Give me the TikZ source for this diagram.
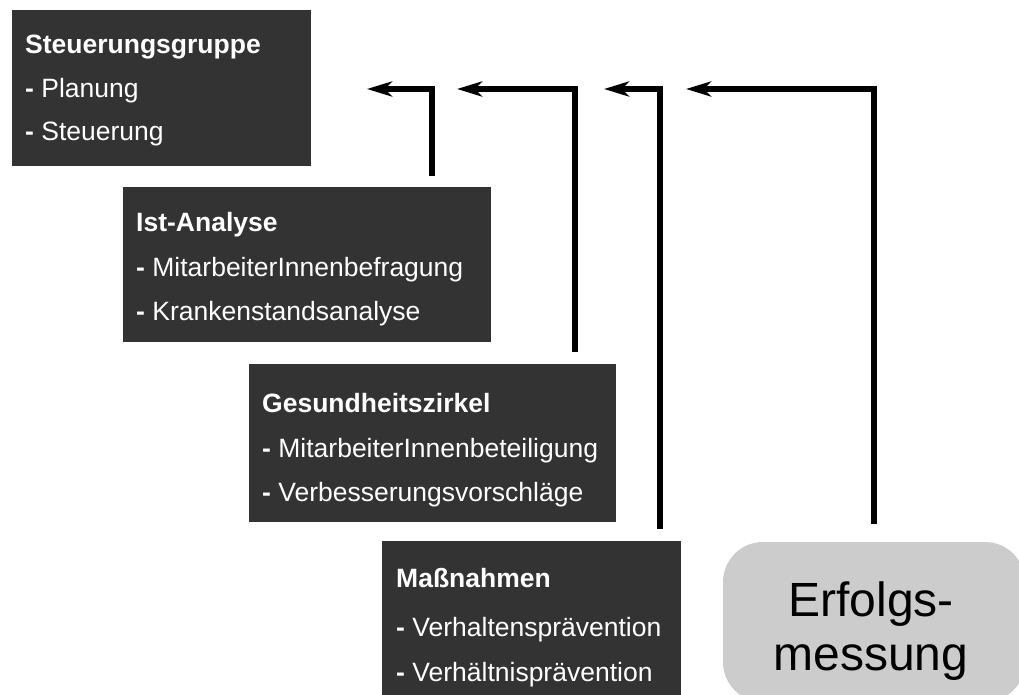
\documentclass[tikz,border=0pt]{standalone}
\usepackage{fontspec}
\setmainfont{Liberation Sans}
\usetikzlibrary{arrows.meta}
\definecolor{boxdark}{HTML}{333333}
\definecolor{boxlight}{HTML}{CCCCCC}
\tikzset{
  darkbox/.style={fill=boxdark, draw=none, inner sep=0pt, outer sep=0pt, anchor=north west},
  lightbox/.style={fill=boxlight, draw=none, inner sep=0pt, outer sep=0pt, anchor=north west, rounded corners=40pt},
  boxtext/.style={text=white, inner sep=0pt, anchor=base west, font=\fontsize{26.5}{30}\selectfont},
  bigtext/.style={text=black, inner sep=0pt, anchor=base, font=\fontsize{48}{54}\selectfont},
  flow/.style={line width=6pt, -{Stealth[length=25pt,width=15pt,inset=7pt]}},
}
\begin{document}
\begin{tikzpicture}[x=1pt,y=-1pt]
\useasboundingbox (0,0) rectangle (1019,695);
\clip (0,0) rectangle (1019,695);

% boxes
\node[darkbox, minimum width=299pt, minimum height=156pt] (sg) at (12,10) {};
\node[darkbox, minimum width=368pt, minimum height=155pt] (ia) at (123,187) {};
\node[darkbox, minimum width=367pt, minimum height=158pt] (gz) at (249,364) {};
\node[darkbox, minimum width=299pt, minimum height=160pt] (mn) at (382,541) {};
\node[lightbox, minimum width=302pt, minimum height=160pt] (em) at (723,542) {};

% texts
\node[boxtext] (sg1) at (25,54) {\textbf{Steuerungsgruppe}};
\node[boxtext] (sg2) at (25,98) {\textbf{-} Planung};
\node[boxtext] (sg3) at (25,141) {\textbf{-} Steuerung};

\node[boxtext] (ia1) at (136,231) {\textbf{Ist-Analyse}};
\node[boxtext] (ia2) at (136,276) {\textbf{-} MitarbeiterInnenbefragung};
\node[boxtext] (ia3) at (136,320) {\textbf{-} Krankenstandsanalyse};

\node[boxtext] (gz1) at (262,412) {\textbf{Gesundheitszirkel}};
\node[boxtext] (gz2) at (262,457) {\textbf{-} MitarbeiterInnenbeteiligung};
\node[boxtext] (gz3) at (262,501) {\textbf{-} Verbesserungsvorschläge};

\node[boxtext] (mn1) at (396,587) {\textbf{Maßnahmen}};
\node[boxtext] (mn2) at (396,636) {\textbf{-} Verhaltensprävention};
\node[boxtext] (mn3) at (396,681) {\textbf{-} Verhältnisprävention};

\node[bigtext] (em1) at (871,616) {Erfolgs-};
\node[bigtext] (em2) at (871,670) {messung};

% connectors
\coordinate (a1s) at (432,176); \coordinate (a1t) at (367,89);
\coordinate (a2s) at (575,352); \coordinate (a2t) at (457,89);
\coordinate (a3s) at (660,529); \coordinate (a3t) at (604,89);
\coordinate (a4s) at (874,524); \coordinate (a4t) at (686,89);
\draw[flow] (a1s) |- (a1t);
\draw[flow] (a2s) |- (a2t);
\draw[flow] (a3s) |- (a3t);
\draw[flow] (a4s) |- (a4t);
\end{tikzpicture}
\end{document}
